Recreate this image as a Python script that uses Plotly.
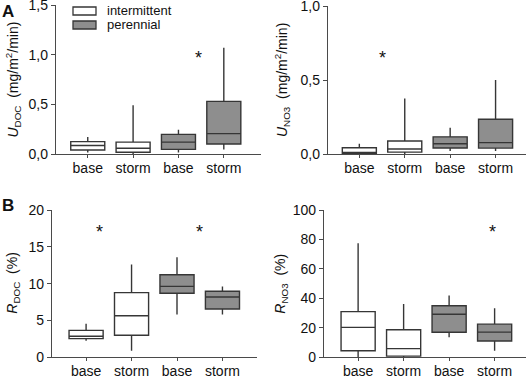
import plotly.graph_objects as go

# ---------------- data ----------------
groups = ["base", "storm", "base", "storm"]
regime = ["intermittent", "intermittent", "perennial", "perennial"]

# U_DOC (mg/m2/min)
udoc_low = [0.015, 0.0, 0.015, 0.045]
udoc_q1 = [0.04, 0.017, 0.047, 0.10]
udoc_med = [0.085, 0.058, 0.12, 0.205]
udoc_q3 = [0.125, 0.12, 0.198, 0.53]
udoc_high = [0.17, 0.49, 0.243, 1.07]

# U_NO3 (mg/m2/min)
uno3_low = [0.0, 0.0, 0.02, 0.02]
uno3_q1 = [0.004, 0.013, 0.041, 0.04]
uno3_med = [0.007, 0.034, 0.069, 0.077]
uno3_q3 = [0.042, 0.088, 0.116, 0.235]
uno3_high = [0.07, 0.375, 0.177, 0.5]

# R_DOC (%)
rdoc_low = [2.25, 0.9, 5.8, 5.8]
rdoc_q1 = [2.53, 3.0, 8.69, 6.56]
rdoc_med = [2.85, 5.64, 9.63, 8.19]
rdoc_q3 = [3.66, 8.78, 11.2, 8.96]
rdoc_high = [4.57, 12.6, 13.6, 9.63]

# R_NO3 (%)
rno3_low = [0.0, 0.0, 13.6, 4.5]
rno3_q1 = [4.4, 0.8, 17.0, 11.1]
rno3_med = [20.3, 5.9, 29.2, 17.1]
rno3_q3 = [31.0, 18.7, 35.0, 22.5]
rno3_high = [77.4, 36.2, 41.9, 33.3]

# significance marks: (x position in category units, y value)
stars_udoc = [(2.45, 0.97)]
stars_uno3 = [(0.5, 0.65)]
stars_rdoc = [(0.3, 17.0), (2.5, 17.0)]
stars_rno3 = [(2.95, 85.0)]

# ---------------- styling ----------------
W, H = 529, 377
FONT = "Liberation Sans, Arial, sans-serif"
LINE = "#363636"
AXIS = "#4a4a4a"
TXT = "#111111"
FILL = {"intermittent": "#ffffff", "perennial": "#8e8e8e"}


def px_x(p):
    return p / W


def px_y(p):
    return 1 - p / H


panels = [
    dict(x="x", y="y", low=udoc_low, q1=udoc_q1, med=udoc_med, q3=udoc_q3, high=udoc_high,
         dx=(56, 261), dy=(154, 5), xr=(-0.70, 3.82), yr=(0, 1.5),
         tv=[0, 0.5, 1.0, 1.5], tt=["0,0", "0,5", "1,0", "1,5"],
         title="<i>U</i><sub>DOC</sub>  (mg/m<sup>2</sup>/min)", tx=13, stars=stars_udoc),
    dict(x="x2", y="y2", low=uno3_low, q1=uno3_q1, med=uno3_med, q3=uno3_q3, high=uno3_high,
         dx=(328, 526), dy=(154, 6), xr=(-0.69, 3.67), yr=(0, 1.0),
         tv=[0, 0.5, 1.0], tt=["0,0", "0,5", "1,0"],
         title="<i>U</i><sub>NO3</sub>  (mg/m<sup>2</sup>/min)", tx=282, stars=stars_uno3),
    dict(x="x3", y="y3", low=rdoc_low, q1=rdoc_q1, med=rdoc_med, q3=rdoc_q3, high=rdoc_high,
         dx=(52, 257), dy=(357.3, 210), xr=(-0.75, 3.76), yr=(0, 20),
         tv=[0, 5, 10, 15, 20], tt=["0", "5", "10", "15", "20"],
         title="<i>R</i><sub>DOC</sub>  (%)", tx=13, stars=stars_rdoc),
    dict(x="x4", y="y4", low=rno3_low, q1=rno3_q1, med=rno3_med, q3=rno3_q3, high=rno3_high,
         dx=(324, 526), dy=(357.3, 210), xr=(-0.75, 3.69), yr=(0, 100),
         tv=[0, 20, 40, 60, 80, 100], tt=["0", "20", "40", "60", "80", "100"],
         title="<i>R</i><sub>NO3</sub>  (%)", tx=281, stars=stars_rno3),
]

fig = go.Figure()
layout = {}
annotations = []

for i, p in enumerate(panels):
    suffix = "" if i == 0 else str(i + 1)
    for j in range(len(groups)):
        fig.add_trace(go.Box(
            x=[j], q1=[p["q1"][j]], median=[p["med"][j]], q3=[p["q3"][j]],
            lowerfence=[p["low"][j]], upperfence=[p["high"][j]],
            xaxis=p["x"], yaxis=p["y"],
            fillcolor=FILL[regime[j]], line=dict(color=LINE, width=1.4),
            whiskerwidth=0, width=0.75, boxpoints=False, showlegend=False,
            hoverinfo="skip",
        ))
    layout["xaxis" + suffix] = dict(
        domain=[px_x(p["dx"][0]), px_x(p["dx"][1])], anchor=p["y"], automargin=False,
        ticklabeloverflow="allow", ticklabelstandoff=-2,
        range=list(p["xr"]), tickmode="array", tickvals=list(range(len(groups))),
        ticktext=groups, ticks="outside", ticklen=3, tickwidth=1.2, tickcolor=AXIS,
        showline=True, linecolor=AXIS, linewidth=1.3, showgrid=False, zeroline=False,
        tickfont=dict(family=FONT, size=14, color=TXT),
    )
    layout["yaxis" + suffix] = dict(
        domain=[px_y(p["dy"][0]), px_y(p["dy"][1])], anchor=p["x"], automargin=False,
        ticklabeloverflow="allow",
        range=list(p["yr"]), tickmode="array", tickvals=p["tv"], ticktext=p["tt"],
        ticks="outside", ticklen=4, tickwidth=1.2, tickcolor=AXIS,
        showline=True, linecolor=AXIS, linewidth=1.3, showgrid=False, zeroline=False,
        tickfont=dict(family=FONT, size=14, color=TXT),
    )
    # y-axis title as rotated annotation for precise placement
    annotations.append(dict(
        x=px_x(p["tx"]), y=(px_y(p["dy"][0]) + px_y(p["dy"][1])) / 2,
        xref="paper", yref="paper", text=p["title"], textangle=-90, showarrow=False,
        xanchor="center", yanchor="middle", font=dict(family=FONT, size=14, color=TXT)))
    for sx, sy in p["stars"]:
        annotations.append(dict(x=sx, y=sy, xref=p["x"], yref=p["y"], text="*",
                                showarrow=False, font=dict(family=FONT, size=18, color=TXT)))

# panel letters
annotations.append(dict(x=0.0, y=1.0, xref="paper", yref="paper", xanchor="left", yanchor="top",
                        text="<b>A</b>", showarrow=False, font=dict(family=FONT, size=17, color=TXT)))
annotations.append(dict(x=0.0, y=px_y(194), xref="paper", yref="paper", xanchor="left", yanchor="top",
                        text="<b>B</b>", showarrow=False, font=dict(family=FONT, size=17, color=TXT)))

# legend (manual)
legend_items = ["intermittent", "perennial"]
shapes = []
for k, name in enumerate(legend_items):
    top = 7 + 14 * k
    shapes.append(dict(type="rect", xref="paper", yref="paper",
                       x0=px_x(73), x1=px_x(96), y0=px_y(top + 8), y1=px_y(top),
                       fillcolor=FILL[name], line=dict(color=LINE, width=1.3)))
    annotations.append(dict(x=px_x(105), y=px_y(top + 4), xref="paper", yref="paper",
                            xanchor="left", yanchor="middle", text=name, showarrow=False,
                            font=dict(family=FONT, size=13, color=TXT)))

fig.update_layout(
    width=W, height=H, margin=dict(l=0, r=0, t=0, b=0),
    paper_bgcolor="white", plot_bgcolor="white",
    annotations=annotations, shapes=shapes, **layout,
)

fig.write_html("out.html", config={"displayModeBar": False},
               post_script="document.body.style.margin='0';document.body.style.overflow='hidden';")
